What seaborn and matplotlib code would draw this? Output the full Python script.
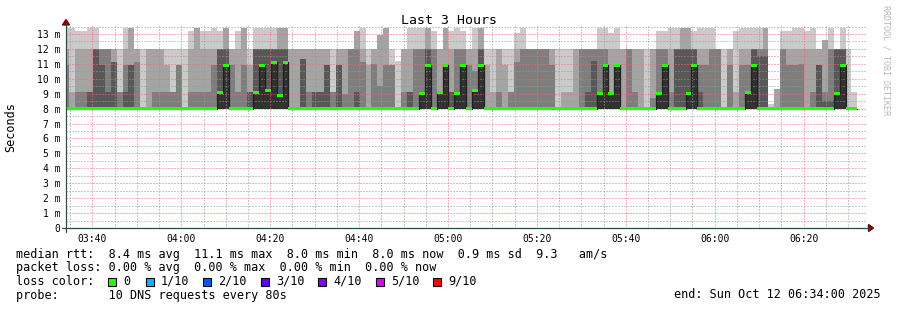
import numpy as np
import pandas as pd
import matplotlib
matplotlib.use("Agg")
import matplotlib.pyplot as plt
from matplotlib.ticker import MultipleLocator, FuncFormatter
from matplotlib.patches import Polygon, Rectangle
from matplotlib.lines import Line2D
import seaborn as sns

# ---------------- data (ms) ----------------
# RRD step of 80 s; first full step ends at 03:34:46
step_seconds = 80
first_step_end = "03:34:46"
window_start = "03:34"
window_end = "06:34"
rtt_floor = 8.0  # lowest ping of every step

# smoke: top of each band (ping1..10, ping2..9, ping3..8, ping4..7) and median
band1 = [13.4, 13.4, 13.2, 13.2, 13.4, 13.4, 12.0, 12.0, 12.0, 12.0, 13.4, 13.4, 12.0, 12.0, 12.0, 12.0, 12.0, 12.0, 12.0, 12.0,
         12.0, 13.2, 13.4, 13.2, 13.2, 13.4, 13.2, 13.4, 12.0, 13.2, 13.4, 12.0, 13.4, 13.4, 13.4, 13.4, 13.4, 13.4, 12.0, 12.0,
         12.0, 12.0, 12.0, 12.0, 12.0, 12.0, 12.0, 12.0, 12.0, 13.2, 13.4, 12.0, 12.0, 12.9, 13.4, 12.0, 11.2, 12.0, 13.4, 13.4,
         13.4, 13.4, 13.2, 12.0, 13.4, 13.2, 13.4, 13.2, 12.0, 13.4, 13.4, 12.0, 12.0, 12.0, 12.0, 12.0, 13.1, 13.4, 12.0, 12.0,
         12.0, 12.0, 12.0, 12.0, 12.0, 12.0, 12.0, 12.0, 12.0, 12.0, 13.4, 13.4, 13.1, 13.4, 12.0, 12.0, 12.0, 12.0, 12.0, 12.0,
         13.2, 13.2, 13.4, 13.4, 13.4, 13.4, 13.2, 13.4, 13.4, 13.4, 12.0, 12.0, 12.0, 13.2, 13.4, 13.4, 13.4, 13.4, 13.4, 8.3,
         9.3, 13.2, 13.2, 13.4, 13.4, 13.2, 13.4, 12.0, 12.6, 13.4, 12.0, 13.4, 12.0, 9.1]
band2 = [12.0, 9.1, 12.0, 12.0, 12.0, 12.0, 12.0, 12.0, 12.0, 9.1, 12.0, 13.4, 12.0, 8.0, 12.0, 12.0, 12.0, 10.9, 9.1, 10.9,
         8.0, 12.0, 13.4, 12.0, 12.0, 12.0, 12.0, 13.4, 12.0, 12.0, 13.4, 10.9, 12.0, 12.0, 12.0, 12.0, 13.4, 13.4, 12.0, 12.0,
         12.0, 12.0, 12.0, 12.0, 12.0, 9.1, 12.0, 12.0, 12.0, 13.2, 12.0, 10.9, 12.0, 12.9, 13.4, 10.9, 8.0, 12.0, 12.0, 12.0,
         12.0, 13.4, 12.0, 12.0, 13.4, 12.0, 12.0, 12.0, 12.0, 12.0, 13.4, 10.9, 9.1, 12.0, 10.9, 9.1, 12.0, 12.0, 12.0, 12.0,
         12.0, 12.0, 12.0, 8.0, 9.1, 9.1, 12.0, 12.0, 12.0, 12.0, 12.0, 12.0, 12.0, 12.0, 12.0, 12.0, 12.0, 12.0, 8.0, 12.0,
         12.0, 12.0, 12.0, 12.0, 13.4, 13.4, 12.0, 12.0, 12.0, 12.0, 12.0, 8.0, 12.0, 9.1, 12.0, 12.0, 12.0, 12.0, 13.4, 8.0,
         9.3, 12.0, 12.0, 12.0, 12.0, 12.0, 12.0, 12.0, 12.6, 12.0, 12.0, 12.0, 8.0, 8.0]
band3 = [10.9, 8.0, 9.1, 9.1, 9.1, 12.0, 12.0, 12.0, 11.1, 9.1, 10.9, 10.9, 11.1, 8.0, 8.0, 9.1, 9.1, 9.1, 9.1, 10.9,
         8.0, 9.1, 9.1, 9.1, 9.1, 10.9, 12.0, 12.0, 10.9, 9.1, 10.9, 9.1, 12.0, 12.0, 12.0, 12.0, 12.0, 12.0, 8.0, 8.0,
         11.3, 9.1, 9.1, 9.1, 10.9, 9.1, 10.9, 9.0, 12.0, 12.0, 11.1, 8.0, 11.0, 9.5, 10.9, 10.9, 8.0, 9.1, 9.1, 12.0,
         12.0, 12.0, 12.0, 9.1, 10.9, 9.1, 12.0, 12.0, 10.9, 10.5, 12.0, 8.0, 8.0, 9.1, 8.0, 9.1, 11.1, 12.0, 12.0, 12.0,
         12.0, 12.0, 10.9, 8.0, 8.0, 8.0, 8.0, 12.0, 12.0, 12.0, 12.0, 12.0, 9.0, 10.9, 8.0, 12.0, 9.1, 8.0, 8.0, 8.7,
         12.0, 12.0, 9.1, 12.0, 12.0, 12.0, 12.0, 10.9, 10.9, 12.0, 12.0, 8.0, 10.9, 8.0, 10.9, 10.9, 12.0, 12.0, 12.0, 8.0,
         8.0, 12.0, 10.9, 10.9, 11.0, 8.0, 9.1, 10.9, 9.1, 12.0, 12.0, 12.0, 8.0, 8.0]
band4 = [8.0, 8.0, 8.0, 8.0, 9.1, 12.0, 10.9, 9.1, 11.1, 8.0, 9.1, 10.9, 8.0, 8.0, 8.0, 8.0, 8.0, 8.0, 8.0, 8.0,
         8.0, 8.0, 8.0, 8.0, 8.0, 8.0, 12.0, 12.0, 8.0, 8.0, 8.0, 9.1, 12.0, 12.0, 12.0, 12.0, 12.0, 12.0, 8.0, 8.0,
         11.3, 8.0, 9.1, 9.1, 10.9, 8.0, 10.9, 8.0, 8.0, 9.1, 8.0, 8.0, 8.0, 8.0, 8.0, 8.0, 8.0, 8.0, 9.1, 8.0,
         9.0, 12.0, 8.0, 9.1, 10.9, 9.1, 9.0, 10.9, 8.0, 9.2, 12.0, 8.0, 8.0, 8.0, 8.0, 8.0, 8.0, 8.0, 8.0, 8.0,
         8.0, 8.0, 8.0, 8.0, 8.0, 8.0, 8.0, 8.0, 9.1, 11.2, 9.0, 10.9, 9.0, 10.9, 8.0, 8.0, 8.0, 8.0, 8.0, 8.0,
         9.0, 10.9, 8.0, 12.0, 12.0, 12.0, 12.0, 9.1, 8.0, 8.0, 8.0, 8.0, 8.0, 8.0, 8.0, 9.1, 12.0, 11.5, 11.5, 8.0,
         8.0, 8.0, 8.0, 8.0, 8.0, 8.0, 8.0, 10.9, 8.5, 8.5, 12.0, 12.0, 8.0, 8.0]
median = [8.0, 8.0, 8.0, 8.0, 8.0, 8.0, 8.0, 8.0, 8.0, 8.0, 8.0, 8.0, 8.0, 8.0, 8.0, 8.0, 8.0, 8.0, 8.0, 8.0,
          8.0, 8.0, 8.0, 8.0, 8.0, 8.0, 9.1, 10.9, 8.0, 8.0, 8.0, 8.0, 9.1, 10.9, 9.2, 11.1, 8.9, 11.1, 8.0, 8.0,
          8.0, 8.0, 8.0, 8.0, 8.0, 8.0, 8.0, 8.0, 8.0, 8.0, 8.0, 8.0, 8.0, 8.0, 8.0, 8.0, 8.0, 8.0, 8.0, 8.0,
          9.0, 10.9, 8.0, 9.1, 10.9, 8.0, 9.0, 10.9, 8.0, 9.2, 10.9, 8.0, 8.0, 8.0, 8.0, 8.0, 8.0, 8.0, 8.0, 8.0,
          8.0, 8.0, 8.0, 8.0, 8.0, 8.0, 8.0, 8.0, 8.0, 8.0, 9.0, 10.9, 9.0, 10.9, 8.0, 8.0, 8.0, 8.0, 8.0, 8.0,
          9.0, 10.9, 8.0, 8.0, 8.0, 9.0, 10.9, 8.0, 8.0, 8.0, 8.0, 8.0, 8.0, 8.0, 8.0, 9.1, 10.9, 8.0, 8.0, 8.0,
          8.0, 8.0, 8.0, 8.0, 8.0, 8.0, 8.0, 8.0, 8.0, 8.0, 9.0, 10.9, 8.0, 8.0]

loss_labels = ["0", "1/10", "2/10", "3/10", "4/10", "5/10", "9/10"]
loss_colors = ["#26ff00", "#00b8ff", "#0059ff", "#5e00ff", "#7e00ff", "#dd00ff", "#ff0000"]
smoke_colors = ["#cacaca", "#a4a4a4", "#7e7e7e", "#585858", "#323232"]

title = "Last 3 Hours"
y_label = "Seconds"
stats_line = "median rtt:  8.4 ms avg  11.1 ms max  8.0 ms min  8.0 ms now  0.9 ms sd  9.3   am/s"
loss_line = "packet loss: 0.00 % avg  0.00 % max  0.00 % min  0.00 % now"
probe_line = "probe:       10 DNS requests every 80s"
end_line = "end: Sun Oct 12 06:34:00 2025"
watermark = "RRDTOOL / TOBI OETIKER"

# ---------------- helpers ----------------
def to_min(hhmm):
    parts = [float(p) for p in hhmm.split(":")]
    m = parts[0] * 60 + parts[1]
    if len(parts) > 2:
        m += parts[2] / 60
    return m

step_min = step_seconds / 60
n = len(median)
edges = to_min(first_step_end) - step_min + step_min * np.arange(n + 1)

def ext(a):
    a = np.asarray(a, dtype=float)
    return np.append(a, a[-1])

df = pd.DataFrame({"t": edges, "median": ext(median)})

# ---------------- figure ----------------
sns.set_theme(style="white")
plt.rcParams["font.family"] = ["DejaVu Sans Mono", "DejaVu Sans"]

W, H = 897, 310
fig = plt.figure(figsize=(W / 100, H / 100), dpi=100)
fig.patch.set_facecolor("white")

X0, X1 = 65.8, 865.8
Y0, Y1 = 228.0, 25.8
ax = fig.add_axes([X0 / W, (H - Y0) / H, (X1 - X0) / W, (Y0 - Y1) / H])
ax.set_facecolor("white")
ax.set_xlim(to_min(window_start), to_min(window_end))
ax.set_ylim(0, 13.55)

# smoke bands
layers = [band1, band2, band3, band4, median]
for vals, col in zip(layers, smoke_colors):
    ax.fill_between(edges, rtt_floor, ext(vals), step="post", color=col, lw=0, zorder=1)

# median line (dark) and loss-coloured median bars
sns.lineplot(data=df, x="t", y="median", drawstyle="steps-post", color="#202020",
             lw=0.9, estimator=None, legend=False, ax=ax, zorder=3)
med = ext(median)
ax.fill_between(edges, med - 0.1, med + 0.1, step="post", color=loss_colors[0], lw=0, zorder=4)

# grid
ax.xaxis.set_major_locator(MultipleLocator(20))
ax.xaxis.set_minor_locator(MultipleLocator(5))
ax.yaxis.set_major_locator(MultipleLocator(1))
ax.yaxis.set_minor_locator(MultipleLocator(0.5))
ax.set_axisbelow(False)
ax.grid(which="minor", color=(0.6, 0.6, 0.6, 0.32), ls=(0, (1, 2)), lw=0.72)
ax.grid(which="major", color=(1.0, 0.4, 0.4, 0.42), ls=(0, (1, 2)), lw=0.72)
for gl in ax.get_xgridlines() + ax.get_ygridlines():
    gl.set_zorder(2.5)

ax.xaxis.set_major_formatter(FuncFormatter(lambda v, p: f"{int(v // 60):02d}:{int(round(v % 60)):02d}"))
ax.yaxis.set_major_formatter(FuncFormatter(lambda v, p: "0" if abs(v) < 1e-9 else f"{int(round(v))} m"))
ax.tick_params(which="major", length=2, width=0.7, color="#2c4d43", labelsize=7, pad=2, labelcolor="black")
ax.tick_params(which="minor", length=0)
for s in ax.spines.values():
    s.set_visible(False)
ax.set_xlabel("")
ax.set_ylabel("")

# axis lines + arrows (pixel coords)
def fx(x):
    return x / W

def fy(y):
    return 1 - y / H

axis_col = "#2c4d43"
arrow_col = "#7f0000"
fig.add_artist(Line2D([fx(62), fx(870)], [fy(228), fy(228)], color=axis_col, lw=0.9))
fig.add_artist(Line2D([fx(66), fx(66)], [fy(232), fy(23)], color=axis_col, lw=0.9))
fig.add_artist(Polygon([[fx(873.5), fy(228)], [fx(868.5), fy(224.5)], [fx(868.5), fy(231.5)]],
                       closed=True, color=arrow_col, transform=fig.transFigure))
fig.add_artist(Polygon([[fx(66), fy(19.5)], [fx(62.5), fy(25)], [fx(69.5), fy(25)]],
                       closed=True, color=arrow_col, transform=fig.transFigure))

# texts
fig.text(fx(448.5), fy(20), title, ha="center", va="center", fontsize=9.5, color="black")
fig.text(fx(11), fy(127), y_label, ha="center", va="center", rotation=90, fontsize=8.5, color="black")
fig.text(fx(886), fy(60), watermark, ha="center", va="center", rotation=-90, fontsize=6, color="#b8b8b8")

fs = 8.5
fig.text(fx(16), fy(258), stats_line, ha="left", va="baseline", fontsize=fs, color="black")
fig.text(fx(16), fy(271.5), loss_line, ha="left", va="baseline", fontsize=fs, color="black")
fig.text(fx(16), fy(285), "loss color:", ha="left", va="baseline", fontsize=fs, color="black")
box_x = [108, 146, 203, 261, 318, 376, 433]
for bx, lab, col in zip(box_x, loss_labels, loss_colors):
    fig.add_artist(Rectangle((fx(bx), fy(285.5)), 8 / W, 8 / H, transform=fig.transFigure,
                             facecolor=col, edgecolor="black", lw=0.8))
    fig.text(fx(bx + 15), fy(285), lab, ha="left", va="baseline", fontsize=fs, color="black")
fig.text(fx(16), fy(298.5), probe_line, ha="left", va="baseline", fontsize=fs, color="black")
fig.text(fx(881), fy(298.5), end_line, ha="right", va="baseline", fontsize=fs, color="black")

fig.savefig("out.png", dpi=100, facecolor="white")
